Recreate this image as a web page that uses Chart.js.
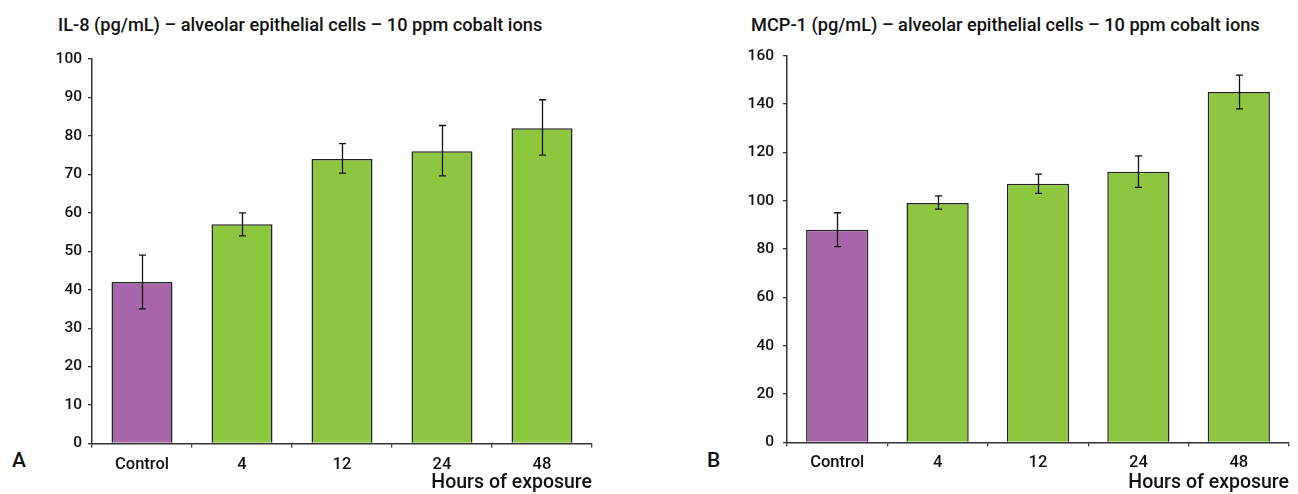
<!DOCTYPE html>
<html>
<head>
<meta charset="utf-8">
<script src="https://cdn.jsdelivr.net/npm/chart.js@4"></script>
<style>
    body { margin: 0; background: #fff; font-family: Roboto, "Liberation Sans", Arial, sans-serif; font-weight: 500; color: #111; }
    .page { position: relative; width: 1298px; height: 494px; overflow: hidden; }
    .panel { position: absolute; top: 0; height: 494px; }
    .titulo { position: absolute; top: 13px; font-size: 18.2px; white-space: nowrap; line-height: 24px; }
    .letra { position: absolute; top: 447px; font-size: 21px; line-height: 26px; }
</style>
</head>
<body>
<div class="page">
    <div class="titulo" style="left:58px">IL-8 (pg/mL) – alveolar epithelial cells – 10 ppm cobalt ions</div>
    <div class="titulo" style="left:751px">MCP-1 (pg/mL) – alveolar epithelial cells – 10 ppm cobalt ions</div>
    <div class="letra" style="left:12px">A</div>
    <div class="letra" style="left:707px">B</div>
    <div class="panel" style="left:0;width:640px"><canvas id="chartIL8" width="640" height="494"></canvas></div>
    <div class="panel" style="left:640px;width:658px"><canvas id="chartMCP1" width="658" height="494"></canvas></div>
</div>
<script>
const categorias = ['Control', '4', '12', '24', '48'];
const cores = ['#A866AA', '#8DC63F', '#8DC63F', '#8DC63F', '#8DC63F'];

const il8Valores = [42, 57, 74, 76, 82];
const il8ErroSup = [49, 60, 78, 82.7, 89.4];
const il8ErroInf = [35, 54, 70.3, 69.6, 75];
const il8Ticks = [0, 10, 20, 30, 40, 50, 60, 70, 80, 90, 100];

const mcpValores = [88, 99, 107, 112, 145];
const mcpErroSup = [95, 102, 111, 118.5, 152];
const mcpErroInf = [81, 96.5, 103, 105.5, 138];
const mcpTicks = [0, 20, 40, 60, 80, 100, 120, 140, 160];

const corEixo = '#333';
const fonte = 'Roboto, "Liberation Sans", Arial, sans-serif';

// barras de erro desenhadas por cima das barras
const barrasErro = {
    id: 'barrasErro',
    afterDatasetsDraw(chart, args, opts) {
        let ctx = chart.ctx;
        let y = chart.scales.y;
        let meta = chart.getDatasetMeta(0);
        ctx.save();
        ctx.strokeStyle = '#111';
        ctx.lineWidth = 1.3;
        opts.sup.forEach((s, i) => {
            let px = Math.round(meta.data[i].x) + 0.5;
            let ySup = y.getPixelForValue(s);
            let yInf = y.getPixelForValue(opts.inf[i]);
            ctx.beginPath();
            ctx.moveTo(px, ySup); ctx.lineTo(px, yInf);
            ctx.moveTo(px - 3.5, ySup); ctx.lineTo(px + 3.5, ySup);
            ctx.moveTo(px - 3.5, yInf); ctx.lineTo(px + 3.5, yInf);
            ctx.stroke();
        });
        ctx.restore();
    }
};

function criarGrafico(id, valores, sup, inf, ticks, cfg) {
    return new Chart(document.getElementById(id), {
        type: 'bar',
        data: {
            labels: categorias,
            datasets: [{
                data: valores,
                backgroundColor: cores,
                borderColor: '#222',
                borderWidth: 1.5,
                borderSkipped: 'bottom',
                barPercentage: cfg.barPct,
                categoryPercentage: 1
            }]
        },
        options: {
            responsive: false,
            animation: false,
            layout: { padding: { top: cfg.topo, right: cfg.direita, left: 0, bottom: 0 } },
            plugins: {
                legend: { display: false },
                tooltip: { enabled: false },
                barrasErro: { sup: sup, inf: inf }
            },
            scales: {
                x: {
                    afterFit: s => { s.height = 494 - cfg.base; },
                    grid: { display: true, drawOnChartArea: false, tickLength: 4, color: corEixo, lineWidth: 1.3 },
                    border: { color: corEixo, width: 1.5 },
                    ticks: { color: '#111', padding: 7, font: { family: fonte, weight: '500', size: 16.5 } },
                    title: {
                        display: true, text: 'Hours of exposure', align: 'end', color: '#111',
                        padding: 0, font: { family: fonte, weight: '500', size: 19.5, lineHeight: 1.1 }
                    }
                },
                y: {
                    min: 0,
                    max: ticks[ticks.length - 1],
                    afterFit: s => { s.width = cfg.eixoY; },
                    afterBuildTicks: s => { s.ticks = ticks.map(v => ({ value: v })); },
                    grid: { display: true, drawOnChartArea: false, tickLength: 4, color: corEixo, lineWidth: 1.3 },
                    border: { color: corEixo, width: 1.5 },
                    ticks: { color: '#111', padding: cfg.padY, font: { family: fonte, weight: '500', size: 15.5 } }
                }
            }
        },
        plugins: [barrasErro]
    });
}

criarGrafico('chartIL8', il8Valores, il8ErroSup, il8ErroInf, il8Ticks,
    { barPct: 0.61, topo: 59, direita: 48, base: 443.5, eixoY: 92, padY: 6 });
criarGrafico('chartMCP1', mcpValores, mcpErroSup, mcpErroInf, mcpTicks,
    { barPct: 0.62, topo: 55.7, direita: 9, base: 442.3, eixoY: 147, padY: 9 });
</script>
</body>
</html>
